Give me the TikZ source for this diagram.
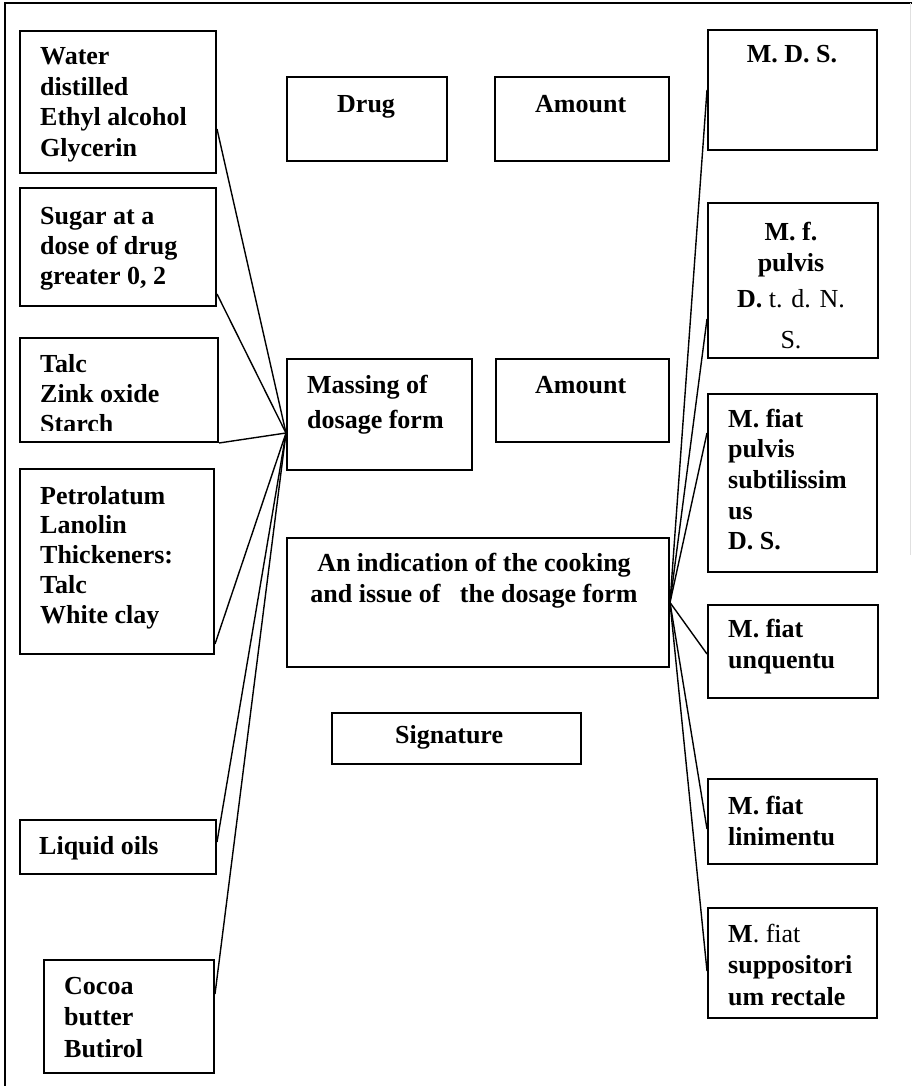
\documentclass[tikz,border=0pt]{standalone}
\usepackage{fontspec}
\setmainfont{Liberation Serif}
\begin{document}
\begin{tikzpicture}[x=1pt,y=-1pt,
  box/.style={draw, line width=2pt, inner sep=0pt, anchor=north west},
  ls/.style={inner sep=0pt, font=\fontsize{26}{#1}\selectfont\bfseries},
  tl/.style={ls=#1, anchor=base west, align=left},
  tc/.style={ls=#1, anchor=base, align=center},
  con/.style={line width=1.4pt}]
\useasboundingbox (0,0) rectangle (911,1086);
% outer frame
\draw[line width=2pt] (5,1090) -- (5,3) -- (915,3);
\draw[line width=1pt, black!12] (910,3) -- (910,555);
% left boxes
\node[box, minimum width=196pt, minimum height=142pt] (b1) at (19,30) {};
\node[box, minimum width=196pt, minimum height=118pt] (b2) at (19,187) {};
\node[box, minimum width=198pt, minimum height=104pt] (b3) at (19,337) {};
\node[box, minimum width=194pt, minimum height=185pt] (b4) at (19,468) {};
\node[box, minimum width=196pt, minimum height=54pt] (b5) at (19,819) {};
\node[box, minimum width=170pt, minimum height=113pt] (b6) at (43,959) {};
% middle boxes
\node[box, minimum width=160pt, minimum height=84pt] (drug) at (286,76) {};
\node[box, minimum width=174pt, minimum height=84pt] (am1) at (494,76) {};
\node[box, minimum width=185pt, minimum height=111pt] (mass) at (286,358) {};
\node[box, minimum width=173pt, minimum height=83pt] (am2) at (495,358) {};
\node[box, minimum width=382pt, minimum height=129pt] (ind) at (286,537) {};
\node[box, minimum width=249pt, minimum height=51pt] (sig) at (331,712) {};
% right boxes
\node[box, minimum width=169pt, minimum height=120pt] (r1) at (707,29) {};
\node[box, minimum width=170pt, minimum height=155pt] (r2) at (707,202) {};
\node[box, minimum width=169pt, minimum height=178pt] (r3) at (707,393) {};
\node[box, minimum width=170pt, minimum height=93pt] (r4) at (707,604) {};
\node[box, minimum width=169pt, minimum height=85pt] (r5) at (707,778) {};
\node[box, minimum width=169pt, minimum height=110pt] (r6) at (707,907) {};
% texts left (anchor = baseline of last line)
\node[tl=30.4] (t1) at (40,156.2) {Water\\distilled\\Ethyl alcohol\\Glycerin};
\node[tl=30] (t2) at (40,284) {Sugar at a\\dose of drug\\greater 0, 2};
\begin{scope}
\clip (19,337) rectangle (217,430.5);
\node[tl=30] (t3) at (40,432.7) {Talc\\Zink oxide\\Starch};
\end{scope}
\node[tl=29.8] (t4) at (40,623.2) {Petrolatum\\Lanolin\\Thickeners:\\Talc\\White clay};
\node[tl=30] (t5) at (39,854) {Liquid oils};
\node[tl=31.5] (t6) at (64,1057) {Cocoa\\butter\\Butirol};
% texts middle
\node[tl=30] (tdrug) at (337,113) {Drug};
\node[tl=30] (tam1) at (535,113) {Amount};
\node[tl=35] (tmass) at (307,428) {Massing of\\dosage form};
\node[tl=30] (tam2) at (535,393) {Amount};
\node[tc=31] (tind) at (474,602) {An indication of the cooking\\and issue of\ \ \ the dosage form};
\node[tl=30] (tsig) at (395,743) {Signature};
% texts right
\node[tc=30] (tr1) at (792,63) {M. D. S.};
\node[tc=31] (tr2) at (791,348) {M. f.\\pulvis\\[5pt]D.\mdseries{} t. d. N.\\[10pt]\mdseries S.};
\node[tl=30.7] (tr3) at (728,549.8) {M. fiat\\pulvis\\subtilissim\\us\\D. S.};
\node[tl=31] (tr4) at (728,668) {M. fiat\\unquentu};
\node[tl=31.7] (tr5) at (728,845.7) {M. fiat\\linimentu};
\node[tl=31.5] (tr6) at (728,1005) {M\mdseries. fiat\\suppositori\\um rectale};
% connectors left
\coordinate (mp) at ([yshift=-18.5pt]mass.west);
\draw[con] ([yshift=-27pt]b1.east) -- (mp);
\draw[con] ([yshift=-47pt]b2.east) -- (mp);
\draw[con] (b3.south east) -- (mp);
\draw[con] ([yshift=-82.5pt]b4.east) -- (mp);
\draw[con] ([yshift=5pt]b5.east) -- (mp);
\draw[con] ([yshift=22.5pt]b6.east) -- (mp);
% connectors right
\draw[con] (ind.east) -- (r1.west);
\draw[con] (ind.east) -- ([yshift=-38.5pt]r2.west);
\draw[con] (ind.east) -- ([yshift=50pt]r3.west);
\draw[con] (ind.east) -- ([yshift=-2.5pt]r4.west);
\draw[con] (ind.east) -- ([yshift=-7.5pt]r5.west);
\draw[con] (ind.east) -- ([yshift=-8pt]r6.west);
\end{tikzpicture}
\end{document}
